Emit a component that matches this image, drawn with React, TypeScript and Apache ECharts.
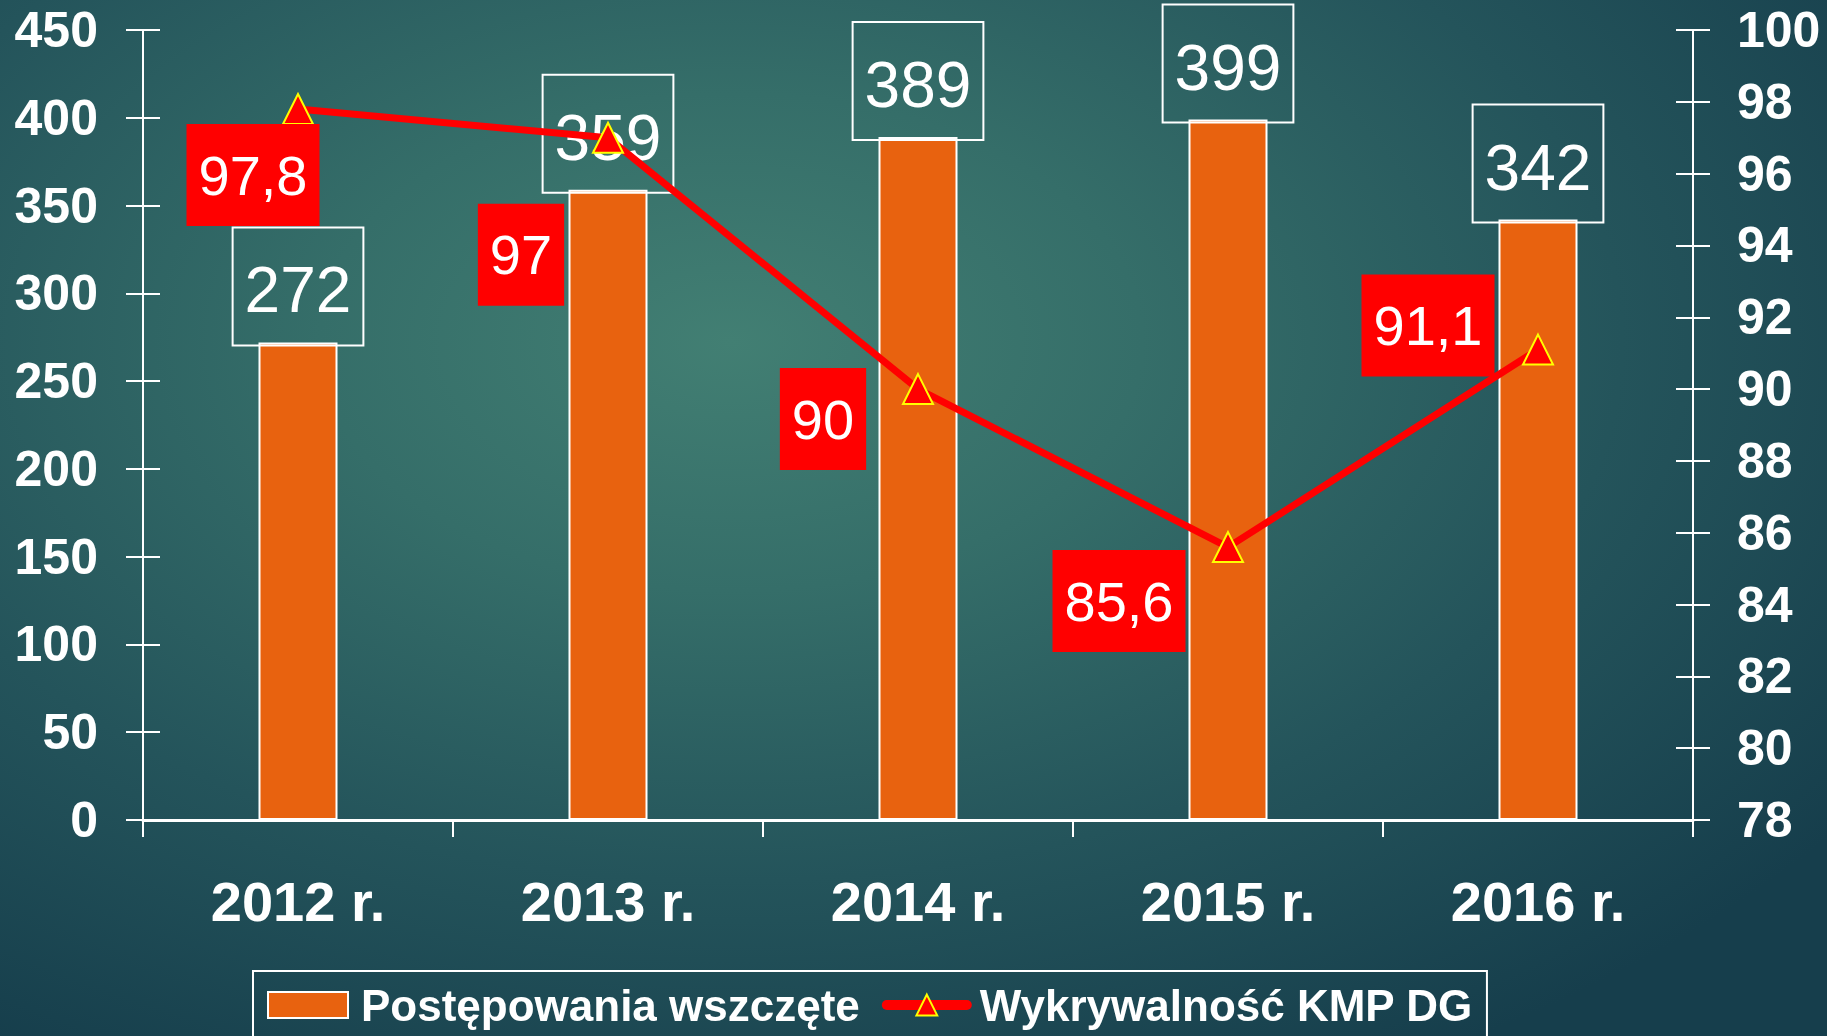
import React, { useEffect, useRef } from "react";
import * as echarts from "echarts";

const categories = ["2012 r.", "2013 r.", "2014 r.", "2015 r.", "2016 r."];
const casesStarted = [272, 359, 389, 399, 342];
const detectionRate = [97.8, 97, 90, 85.6, 91.1];
const detectionLabels = ["97,8", "97", "90", "85,6", "91,1"];
const seriesNames = ["Postępowania wszczęte", "Wykrywalność KMP DG"];

// label placement for the line labels (relative to the point)
const lineLabelOffsets = [
  [-45, 66],
  [-87, 117],
  [-95, 30],
  [-109, 54],
  [-110, -24],
];

const FONT = 'Arial, "Liberation Sans", sans-serif';

export default function App() {
  const ref = useRef<HTMLDivElement>(null);

  useEffect(() => {
    if (!ref.current) return;
    const chart = echarts.init(ref.current, undefined, { renderer: "svg" });

    const axisLineStyle = { color: "#ffffff", width: 2 };

    const option: any = {
      animation: false,
      backgroundColor: "transparent",
      textStyle: { fontFamily: FONT },
      grid: { left: 143, right: 134, top: 30, bottom: 216, containLabel: false },
      legend: {
        left: 253,
        top: 971,
        orient: "horizontal",
        borderColor: "#ffffff",
        borderWidth: 2,
        padding: [12, 14, 60, 14],
        itemGap: 22,
        itemWidth: 80,
        itemHeight: 26,
        textStyle: {
          color: "#ffffff",
          fontSize: 44,
          fontWeight: "bold",
          fontFamily: FONT,
          padding: [0, 0, 0, 8],
        },
        data: [
          { name: seriesNames[0], icon: "rect" },
          {
            name: seriesNames[1],
            lineStyle: { width: 10, color: "#FF0000", cap: "round" },
          },
        ],
      },
      xAxis: [
        {
          type: "category",
          data: categories,
          position: "bottom",
          boundaryGap: true,
          axisLine: { show: true, lineStyle: axisLineStyle },
          axisTick: { show: true, inside: false, length: 17, lineStyle: axisLineStyle },
          axisLabel: {
            color: "#ffffff",
            fontSize: 56,
            fontWeight: "bold",
            fontFamily: FONT,
            margin: 53,
          },
          splitLine: { show: false },
        },
        {
          type: "category",
          data: categories,
          position: "top",
          axisLine: { show: true, lineStyle: { color: "#ffffff", width: 3 } },
          axisTick: { show: false },
          axisLabel: { show: false },
          splitLine: { show: false },
        },
      ],
      yAxis: [
        {
          type: "value",
          position: "left",
          min: 0,
          max: 450,
          interval: 50,
          axisLine: { show: true, lineStyle: axisLineStyle },
          axisTick: { show: true, inside: false, length: 17, lineStyle: axisLineStyle },
          axisLabel: {
            color: "#ffffff",
            fontSize: 50,
            fontWeight: "bold",
            fontFamily: FONT,
            margin: 45,
          },
          splitLine: { show: false },
        },
        {
          type: "value",
          position: "right",
          min: 78,
          max: 100,
          interval: 2,
          axisLine: { show: true, lineStyle: axisLineStyle },
          axisTick: { show: true, inside: false, length: 17, lineStyle: axisLineStyle },
          axisLabel: {
            color: "#ffffff",
            fontSize: 50,
            fontWeight: "bold",
            fontFamily: FONT,
            margin: 44,
          },
          splitLine: { show: false },
        },
        {
          type: "value",
          position: "left",
          min: 0,
          max: 450,
          interval: 50,
          axisLine: { show: false },
          axisTick: { show: true, inside: true, length: 17, lineStyle: axisLineStyle },
          axisLabel: { show: false },
          splitLine: { show: false },
        },
        {
          type: "value",
          position: "right",
          min: 78,
          max: 100,
          interval: 2,
          axisLine: { show: false },
          axisTick: { show: true, inside: true, length: 17, lineStyle: axisLineStyle },
          axisLabel: { show: false },
          splitLine: { show: false },
        },
      ],
      series: [
        {
          name: seriesNames[0],
          type: "bar",
          xAxisIndex: 0,
          yAxisIndex: 0,
          data: casesStarted,
          barWidth: 79,
          itemStyle: { color: "#E8620F", borderColor: "#ffffff", borderWidth: 2 },
          label: {
            show: true,
            position: "top",
            distance: -3,
            color: "#ffffff",
            fontSize: 64,
            fontFamily: FONT,
            lineHeight: 66,
            borderColor: "#ffffff",
            borderWidth: 2,
            padding: [30, 12, 22, 12],
          },
          z: 2,
        },
        {
          name: seriesNames[1],
          type: "line",
          xAxisIndex: 0,
          yAxisIndex: 1,
          data: detectionRate.map((v, i) => ({
            value: v,
            label: { offset: lineLabelOffsets[i] },
          })),
          symbol: "triangle",
          symbolSize: 30,
          lineStyle: { color: "#FF0000", width: 7 },
          itemStyle: { color: "#FF0000", borderColor: "#FFFF00", borderWidth: 2 },
          label: {
            show: true,
            position: "inside",
            formatter: (p: any) => detectionLabels[p.dataIndex],
            color: "#ffffff",
            fontSize: 56,
            fontFamily: FONT,
            lineHeight: 56,
            backgroundColor: "#FF0000",
            padding: [23, 12],
          },
          z: 3,
        },
      ],
    };

    chart.setOption(option);
    return () => chart.dispose();
  }, []);

  return (
    <div
      style={{
        position: "fixed",
        left: 0,
        top: 0,
        width: 1827,
        height: 1036,
        background:
          "radial-gradient(ellipse 75% 80% at 40% 33%, #427f73 0%, #356e69 30%, #24545b 65%, #163e4c 100%)",
      }}
    >
      <div ref={ref} style={{ width: 1827, height: 1036 }} />
    </div>
  );
}
